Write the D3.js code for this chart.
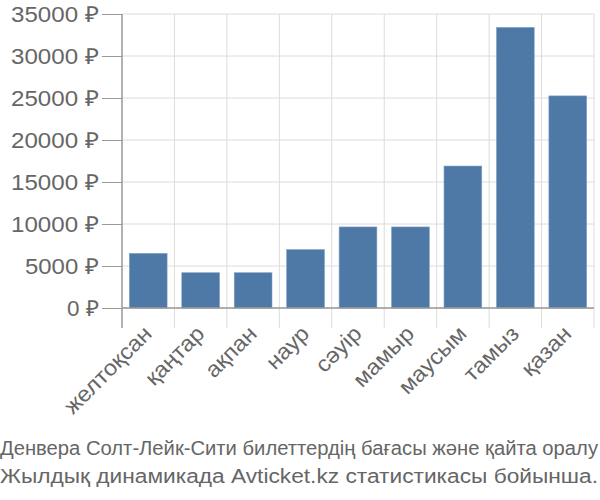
<!DOCTYPE html>
<html><head><meta charset="utf-8">
<script src="https://cdn.jsdelivr.net/npm/d3@7"></script>
<style>body{margin:0;background:#fff}svg{display:block}</style>
</head><body><svg id="c" width="600" height="500"></svg>
<script>
const categories = ["желтоқсан","қаңтар","ақпан","наур","сәуір","мамыр","маусым","тамыз","қазан"];
const values = [6500, 4200, 4200, 6950, 9650, 9650, 16900, 33400, 25250];
const yTicks = [0,5000,10000,15000,20000,25000,30000,35000];
const captionLines = ["Денвера Солт-Лейк-Сити билеттердің бағасы және қайта оралу","Жылдық динамикада Avticket.kz статистикасы бойынша."];

const svg = d3.select("#c");
const L=122, R=594, T=14, B=308;
const x = d3.scaleBand().domain(categories).range([L,R]).paddingInner(0.28).paddingOuter(0.14);
const xg = d3.scaleBand().domain(categories).range([L,R]);
const y = d3.scaleLinear().domain([0,35000]).range([B,T]);
const font = "'Liberation Sans', Arial, sans-serif";

svg.append("g").selectAll("line").data(yTicks).join("line")
  .attr("x1",L).attr("x2",R).attr("y1",d=>y(d)).attr("y2",d=>y(d))
  .attr("stroke","#dcdcdc").attr("stroke-width",1);
const vx = categories.map(c=>xg(c)).concat([R]);
svg.append("g").selectAll("line").data(vx.slice(1)).join("line")
  .attr("x1",d=>d).attr("x2",d=>d).attr("y1",T).attr("y2",B+20)
  .attr("stroke","#dcdcdc").attr("stroke-width",1);

svg.append("g").selectAll("rect").data(values).join("rect")
  .attr("x",(d,i)=>x(categories[i])).attr("width",x.bandwidth())
  .attr("y",d=>y(d)).attr("height",d=>B-y(d))
  .attr("fill","#4e79a7").attr("stroke","#7fa0c6").attr("stroke-width",0.6);

const ya = d3.axisLeft(y).tickValues(yTicks).tickSize(20).tickPadding(3).tickFormat(d=>d+" ₽");
const yg = svg.append("g").attr("transform",`translate(${L},0)`).call(ya);
yg.select(".domain").remove();
yg.selectAll(".tick line").attr("stroke","#999");
yg.selectAll("text").attr("font-family",font).attr("font-size",22).attr("fill","#666")
  .attr("textLength",(d)=>String(d).length*14+18).attr("lengthAdjust","spacingAndGlyphs");
svg.append("line").attr("x1",L).attr("x2",L).attr("y1",T).attr("y2",B+20).attr("stroke","#999").attr("stroke-width",1.5);
svg.append("line").attr("x1",L).attr("x2",R).attr("y1",B).attr("y2",B).attr("stroke","#999").attr("stroke-width",1.5);

const xa = d3.axisBottom(xg).tickSize(0).tickPadding(0);
const xgG = svg.append("g").attr("transform",`translate(0,${B+20})`).call(xa);
xgG.select(".domain").remove();
xgG.selectAll("text").attr("font-family",font).attr("font-size",22).attr("fill","#666")
  .attr("text-anchor","end").attr("dy",0)
  .attr("transform","translate(5,7) rotate(-45)")
  .each(function(){ const w=this.getComputedTextLength(); d3.select(this).attr("textLength",w*1.07).attr("lengthAdjust","spacingAndGlyphs"); });

svg.append("g").selectAll("text").data(captionLines).join("text")
  .attr("x",0).attr("y",(d,i)=>455+i*28)
  .attr("font-family",font).attr("font-size",20).attr("fill","#666")
  .attr("textLength",598).attr("lengthAdjust","spacingAndGlyphs")
  .text(d=>d);
</script></body></html>
